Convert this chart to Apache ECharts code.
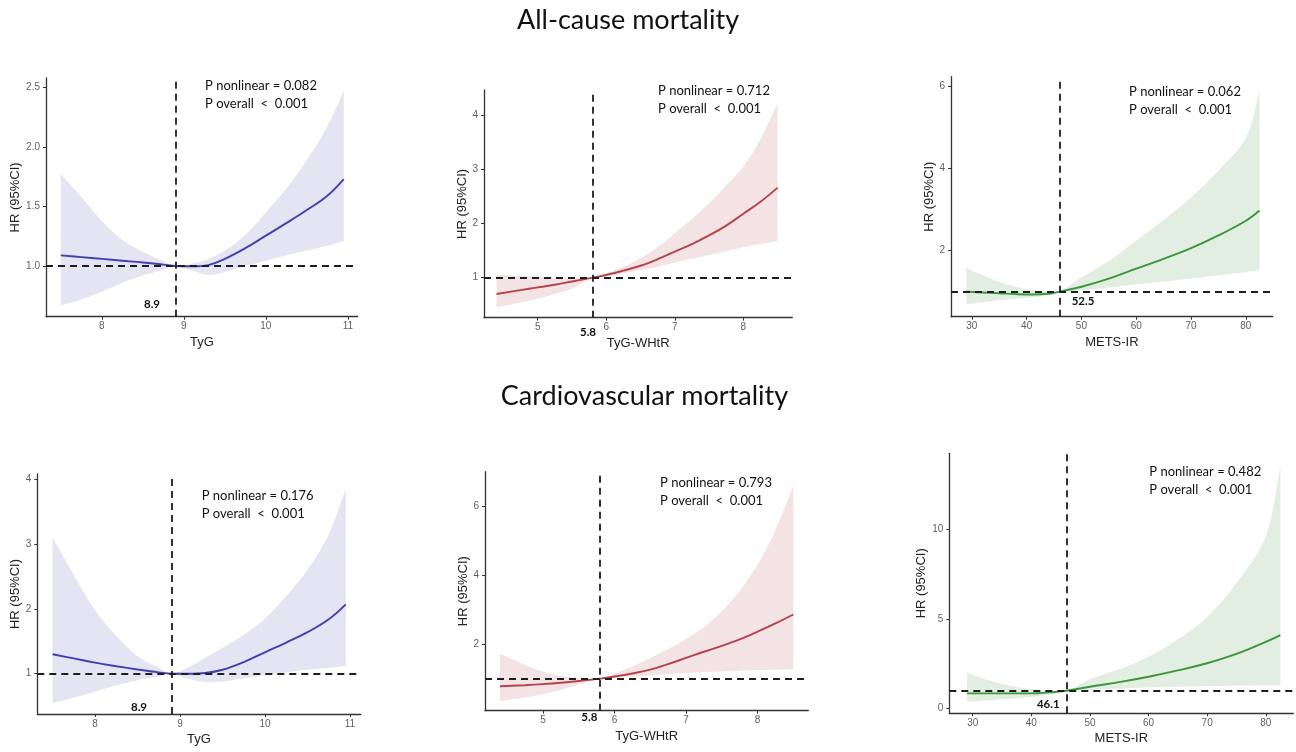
<!DOCTYPE html>
<html><head><meta charset="utf-8">
<script src="https://cdn.jsdelivr.net/npm/echarts@6/dist/echarts.min.js"></script>
<style>html,body{margin:0;padding:0;background:#fff}#c{width:1296px;height:752px}</style>
</head><body><div id="c"></div>
<script>
// ---------------- DATA ----------------
const sectionTitles = ['All-cause mortality', 'Cardiovascular mortality'];
const xNames = ['TyG', 'TyG-WHtR', 'METS-IR', 'TyG', 'TyG-WHtR', 'METS-IR'];
const yName = 'HR (95%CI)';
const pNonlinear = ['0.082', '0.712', '0.062', '0.176', '0.793', '0.482'];
const pOverall = ['0.001', '0.001', '0.001', '0.001', '0.001', '0.001'];
const cutLabels = ['8.9', '5.8', '52.5', '8.9', '5.8', '46.1'];
const cutValues = [8.9, 5.8, 46, 8.9, 5.8, 46];
const refHR = 1;

// x grids
const tygX = [7.5, 7.75, 8.0, 8.25, 8.5, 8.75, 8.9, 9.1, 9.3, 9.5, 9.75, 10.0, 10.25, 10.5, 10.75, 10.95];
const whtrX = [4.4, 4.75, 5.0, 5.25, 5.5, 5.8, 6.0, 6.25, 6.5, 6.75, 7.0, 7.25, 7.5, 7.75, 8.0, 8.25, 8.5];
const metsX = [29, 32, 35, 38, 41, 44, 46, 50, 55, 60, 65, 70, 75, 80, 82.5];

// All-cause, TyG
const allTygHR = [1.09, 1.075, 1.06, 1.045, 1.03, 1.012, 1.0, 0.998, 1.008, 1.06, 1.15, 1.255, 1.36, 1.47, 1.59, 1.73];
const allTygLo = [0.67, 0.72, 0.785, 0.86, 0.92, 0.97, 1.0, 0.96, 0.925, 0.95, 1.0, 1.045, 1.09, 1.13, 1.17, 1.21];
const allTygHi = [1.77, 1.58, 1.38, 1.22, 1.12, 1.04, 1.0, 1.02, 1.06, 1.13, 1.26, 1.45, 1.65, 1.89, 2.17, 2.47];
// All-cause, TyG-WHtR
const allWhtrHR = [0.70, 0.77, 0.82, 0.87, 0.93, 1.0, 1.05, 1.13, 1.22, 1.34, 1.48, 1.62, 1.78, 1.96, 2.18, 2.40, 2.66];
const allWhtrLo = [0.45, 0.54, 0.61, 0.70, 0.80, 1.0, 1.03, 1.08, 1.14, 1.20, 1.28, 1.35, 1.42, 1.49, 1.56, 1.62, 1.67];
const allWhtrHi = [1.06, 1.03, 1.02, 1.0, 0.99, 1.0, 1.08, 1.2, 1.36, 1.56, 1.82, 2.08, 2.37, 2.7, 3.05, 3.55, 4.22];
// All-cause, METS-IR
const allMetsHR = [1.0, 0.98, 0.96, 0.94, 0.93, 0.95, 1.0, 1.12, 1.32, 1.56, 1.8, 2.06, 2.37, 2.73, 2.98];
const allMetsLo = [0.68, 0.74, 0.79, 0.83, 0.86, 0.91, 1.0, 1.03, 1.1, 1.18, 1.25, 1.32, 1.4, 1.48, 1.53];
const allMetsHi = [1.58, 1.4, 1.24, 1.12, 1.04, 1.0, 1.0, 1.35, 1.75, 2.25, 2.75, 3.3, 3.95, 4.75, 5.88];
// Cardiovascular, TyG
const cvTygHR = [1.30, 1.235, 1.17, 1.115, 1.065, 1.02, 1.0, 0.998, 1.01, 1.06, 1.18, 1.33, 1.48, 1.64, 1.84, 2.07];
const cvTygLo = [0.55, 0.63, 0.72, 0.82, 0.90, 0.96, 1.0, 0.92, 0.87, 0.88, 0.93, 0.98, 1.02, 1.06, 1.09, 1.12];
const cvTygHi = [3.1, 2.52, 1.98, 1.58, 1.27, 1.09, 1.0, 1.1, 1.25, 1.4, 1.6, 1.85, 2.2, 2.6, 3.15, 3.85];
// Cardiovascular, TyG-WHtR
const cvWhtrHR = [0.78, 0.81, 0.84, 0.88, 0.93, 1.0, 1.06, 1.15, 1.26, 1.42, 1.6, 1.78, 1.95, 2.14, 2.36, 2.6, 2.86];
const cvWhtrLo = [0.35, 0.45, 0.55, 0.68, 0.82, 1.0, 1.02, 1.06, 1.1, 1.13, 1.16, 1.19, 1.21, 1.23, 1.25, 1.26, 1.27];
const cvWhtrHi = [1.72, 1.4, 1.2, 1.08, 1.02, 1.0, 1.15, 1.35, 1.6, 1.86, 2.15, 2.5, 2.95, 3.55, 4.3, 5.3, 6.6];
// Cardiovascular, METS-IR
const cvMetsHR = [0.85, 0.85, 0.85, 0.85, 0.86, 0.93, 1.0, 1.22, 1.48, 1.78, 2.13, 2.53, 3.05, 3.72, 4.1];
const cvMetsLo = [0.38, 0.45, 0.52, 0.6, 0.68, 0.85, 1.0, 1.05, 1.12, 1.18, 1.22, 1.26, 1.28, 1.3, 1.3];
const cvMetsHi = [2.0, 1.65, 1.38, 1.18, 1.06, 1.0, 1.0, 1.65, 2.2, 2.9, 3.85, 5.1, 7.0, 9.6, 13.5];

// tick labels
const tygTicks = [8, 9, 10, 11];
const whtrTicks = [5, 6, 7, 8];
const metsTicks = [30, 40, 50, 60, 70, 80];
const allTygYTicks = [1.0, 1.5, 2.0, 2.5];
const allWhtrYTicks = [1, 2, 3, 4];
const allMetsYTicks = [2, 4, 6];
const cvTygYTicks = [1, 2, 3, 4];
const cvWhtrYTicks = [2, 4, 6];
const cvMetsYTicks = [0, 5, 10];

// ---------------- LAYOUT / STYLE ----------------
const panels = [
  {x: tygX,  hr: allTygHR,  lo: allTygLo,  hi: allTygHi,  xt: tygTicks,  yt: allTygYTicks,  dec: 1,
   grid: [46, 78, 311.7, 238.7], xr: [7.32, 11.12], yr: [0.575, 2.578], yGap: 23, note: [205, 86], cut: [152, 304]},
  {x: whtrX, hr: allWhtrHR, lo: allWhtrLo, hi: allWhtrHi, xt: whtrTicks, yt: allWhtrYTicks, dec: 0,
   grid: [484, 90, 308.3, 227.7], xr: [4.217, 8.714], yr: [0.262, 4.46], yGap: 11, note: [658, 90.7], cut: [588, 332.7]},
  {x: metsX, hr: allMetsHR, lo: allMetsLo, hi: allMetsHi, xt: metsTicks, yt: allMetsYTicks, dec: 0,
   grid: [951, 76.7, 321.7, 240], xr: [26.2, 84.9], yr: [0.39, 6.24], yGap: 13, note: [1129, 92], cut: [1083, 301]},
  {x: tygX,  hr: cvTygHR,   lo: cvTygLo,   hi: cvTygHi,   xt: tygTicks,  yt: cvTygYTicks,   dec: 0,
   grid: [37.3, 474, 323.4, 240], xr: [7.32, 11.126], yr: [0.378, 4.08], yGap: 15, note: [201.7, 496], cut: [139, 707]},
  {x: whtrX, hr: cvWhtrHR,  lo: cvWhtrLo,  hi: cvWhtrHi,  xt: whtrTicks, yt: cvWhtrYTicks,  dec: 0,
   grid: [485, 471.7, 323.3, 239], xr: [4.19, 8.71], yr: [0.07, 7.0], yGap: 13.5, note: [660, 483.3], cut: [589.3, 717.7]},
  {x: metsX, hr: cvMetsHR,  lo: cvMetsLo,  hi: cvMetsHi,  xt: metsTicks, yt: cvMetsYTicks,  dec: 0,
   grid: [949.3, 453.3, 344, 260], xr: [26.0, 84.7], yr: [-0.26, 14.24], yGap: 21, note: [1149.3, 472.3], cut: [1048.3, 704.3]}
];
const lineColors = ['#4040b0', '#b4444a', '#3b963b'];
const bandColors = ['#e4e4f3', '#f3e3e4', '#e2eee2'];
const axisFont = 'Liberation Sans, Arial, sans-serif';
const noteFont = 'Lato, "Open Sans", sans-serif';

const chart = echarts.init(document.getElementById('c'), null, {renderer: 'canvas'});
const grids = [], xAxes = [], yAxes = [], series = [], graphics = [];

panels.forEach((p, i) => {
  const col = i % 3;
  grids.push({left: p.grid[0], top: p.grid[1], width: p.grid[2], height: p.grid[3], containLabel: false});
  xAxes.push({
    type: 'value', gridIndex: i, min: p.xr[0], max: p.xr[1],
    name: xNames[i], nameLocation: 'middle', nameGap: 19,
    nameTextStyle: {fontFamily: axisFont, fontSize: 13, color: '#222'},
    axisLine: {show: true, onZero: false, lineStyle: {color: '#333', width: 1.3}},
    axisTick: {show: true, length: 3, lineStyle: {color: '#333'}, customValues: p.xt},
    axisLabel: {customValues: p.xt, margin: 5, fontFamily: axisFont, fontSize: 10, color: '#5f5f5f'},
    splitLine: {show: false}
  });
  yAxes.push({
    type: 'value', gridIndex: i, min: p.yr[0], max: p.yr[1],
    name: yName, nameLocation: 'middle', nameGap: p.yGap, nameRotate: 90,
    nameTextStyle: {fontFamily: axisFont, fontSize: 13, color: '#222'},
    axisLine: {show: true, onZero: false, lineStyle: {color: '#333', width: 1.3}},
    axisTick: {show: true, length: 3, lineStyle: {color: '#333'}, customValues: p.yt},
    axisLabel: {customValues: p.yt, margin: 6, fontFamily: axisFont, fontSize: 10, color: '#5f5f5f',
      formatter: v => Number(v).toFixed(p.dec)},
    splitLine: {show: false}
  });
  const bandData = p.x.map((v, k) => [v, p.lo[k], p.hi[k]]);
  series.push({
    type: 'custom', xAxisIndex: i, yAxisIndex: i, silent: true, z: 1,
    data: bandData,
    renderItem: function (params, api) {
      if (params.dataIndexInside !== 0) return null;
      const upper = bandData.map(d => api.coord([d[0], d[2]]));
      const lower = bandData.map(d => api.coord([d[0], d[1]])).reverse();
      const pts = [];
      const pushEdge = (arr) => {
        arr.forEach((pt, k) => {
          pts.push(pt);
          if (k === 0 || k === arr.length - 1) pts.push(pt.slice());
        });
      };
      pushEdge(upper); pushEdge(lower);
      return {type: 'polygon', shape: {points: pts, smooth: 0.35}, style: {fill: bandColors[col], stroke: null}};
    }
  });
  series.push({
    type: 'line', xAxisIndex: i, yAxisIndex: i, z: 3, silent: true,
    data: p.x.map((v, k) => [v, p.hr[k]]),
    smooth: 0.4, showSymbol: false, symbol: 'none',
    lineStyle: {color: lineColors[col], width: 1.9},
    markLine: {
      silent: true, symbol: 'none', animation: false,
      lineStyle: {type: [7, 5], color: '#1e1e1e', width: 1.8},
      label: {show: false},
      data: [{xAxis: cutValues[i]}, {yAxis: refHR}]
    }
  });
  graphics.push({type: 'text', x: p.note[0], y: p.note[1], style: {
    text: 'P nonlinear = ' + pNonlinear[i], font: '13px ' + noteFont, fill: '#111', align: 'left', verticalAlign: 'middle'}});
  graphics.push({type: 'text', x: p.note[0], y: p.note[1] + 17.7, style: {
    text: 'P overall  <  ' + pOverall[i], font: '13px ' + noteFont, fill: '#111', align: 'left', verticalAlign: 'middle'}});
  graphics.push({type: 'text', x: p.cut[0], y: p.cut[1], style: {
    text: cutLabels[i], font: 'bold 11.5px ' + noteFont, fill: '#111', align: 'center', verticalAlign: 'middle'}});
});

graphics.push({type: 'text', x: 628, y: 20, style: {
  text: sectionTitles[0], font: '27px ' + noteFont, fill: '#111', align: 'center', verticalAlign: 'middle'}});
graphics.push({type: 'text', x: 644.5, y: 396, style: {
  text: sectionTitles[1], font: '27px ' + noteFont, fill: '#111', align: 'center', verticalAlign: 'middle'}});

chart.setOption({
  animation: false,
  backgroundColor: '#fff',
  grid: grids, xAxis: xAxes, yAxis: yAxes, series: series, graphic: graphics
});
</script></body></html>
